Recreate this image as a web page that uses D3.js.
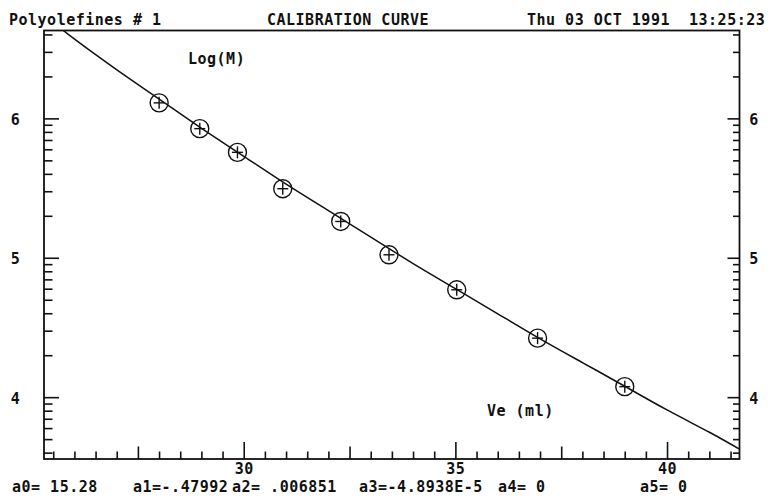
<!DOCTYPE html>
<html>
<head>
<meta charset="utf-8">
<script src="https://cdn.jsdelivr.net/npm/d3@7"></script>
<style>
  body { margin: 0; background: #fff; }
  text { font-family: "DejaVu Sans Mono", "Liberation Mono", monospace; font-weight: bold; font-size: 15px; letter-spacing: 0.5px; fill: #111; }
</style>
</head>
<body>
<div id="chart"></div>
<script>
// calibration standards
var veValues = [27.99, 28.95, 29.84, 30.91, 32.28, 33.42, 35.02, 36.93, 38.99];
var logMValues = [6.115, 5.930, 5.760, 5.499, 5.264, 5.025, 4.774, 4.427, 4.079];

// the fitted calibration curve, sampled along the drawn line
var curveVe = [25.5, 26, 27, 28, 29, 30, 31, 32, 33, 34, 35, 36, 37, 38, 39, 40, 41, 41.7];
var curveLogM = [6.69, 6.57, 6.35, 6.14, 5.93, 5.73, 5.53, 5.34, 5.15, 4.96, 4.78, 4.60, 4.42, 4.25, 4.08, 3.91, 3.75, 3.63];

var xTickLabels = [30, 35, 40];
var yTickLabels = [4, 5, 6];

var headerTexts = ["Polyolefines # 1", "CALIBRATION CURVE", "Thu 03 OCT 1991  13:25:23"];
var coeffTexts = ["a0= 15.28", "a1=-.47992", "a2= .006851", "a3=-4.8938E-5", "a4= 0", "a5= 0"];

var svgWidth = 775;
var svgHeight = 499;
var frame = {left: 44, right: 739.5, top: 30.5, bottom: 459};

var svg = d3.select("#chart").append("svg").attr("width", svgWidth).attr("height", svgHeight);

var xScale = d3.scaleLinear().domain([25.27, 41.70]).range([frame.left, frame.right]);
var yScale = d3.scaleLinear().domain([3.56, 6.634]).range([frame.bottom, frame.top]);

// log(M) ticks: every integer multiple inside each decade
var mScale = d3.scaleLog().domain([Math.pow(10, 3.56), Math.pow(10, 6.634)]);
var yTicks = mScale.ticks().map(function(m){ return Math.log10(m); });
var isMajorY = function(v){ return Math.abs(v - Math.round(v)) < 1e-6; };

// x ticks every 0.5 ml
var xTicks = d3.range(25.5, 41.6, 0.5);
var xTickLen = function(v){
    if (v % 5 === 0) return 17;
    if (v % 2.5 === 0) return 12.5;
    return 7.5;
};

var axes = svg.append("g").attr("stroke", "#111").attr("stroke-width", 1.6);

axes.selectAll(".xt").data(xTicks).enter().append("line")
    .attr("x1", d => xScale(d)).attr("x2", d => xScale(d))
    .attr("y1", frame.bottom).attr("y2", d => frame.bottom - xTickLen(d));

axes.selectAll(".ylt").data(yTicks).enter().append("line")
    .attr("x1", frame.left).attr("x2", d => frame.left + (isMajorY(d) ? 15 : 8.5))
    .attr("y1", d => yScale(d)).attr("y2", d => yScale(d));

axes.selectAll(".yrt").data(yTicks).enter().append("line")
    .attr("x1", frame.right).attr("x2", d => frame.right - (isMajorY(d) ? 12 : 6.5))
    .attr("y1", d => yScale(d)).attr("y2", d => yScale(d));

svg.append("rect")
    .attr("x", frame.left).attr("y", frame.top)
    .attr("width", frame.right - frame.left).attr("height", frame.bottom - frame.top)
    .attr("fill", "none").attr("stroke", "#111").attr("stroke-width", 1.8);

svg.append("clipPath").attr("id", "plotClip").append("rect")
    .attr("x", frame.left).attr("y", frame.top)
    .attr("width", frame.right - frame.left).attr("height", frame.bottom - frame.top);

var curvePts = curveVe.map(function(v, i){ return [v, curveLogM[i]]; });
var line = d3.line().x(d => xScale(d[0])).y(d => yScale(d[1])).curve(d3.curveNatural);
svg.append("path").attr("d", line(curvePts))
    .attr("clip-path", "url(#plotClip)")
    .attr("fill", "none").attr("stroke", "#111").attr("stroke-width", 1.5);

var pts = veValues.map(function(v, i){ return {ve: v, logM: logMValues[i]}; });
var marks = svg.append("g").selectAll("g").data(pts).enter().append("g")
    .attr("transform", d => `translate(${xScale(d.ve)},${yScale(d.logM)})`)
    .attr("stroke", "#111").attr("stroke-width", 1.4).attr("fill", "none");
marks.append("circle").attr("r", 9);
marks.append("line").attr("x1", -5.5).attr("x2", 5.5).attr("y1", 0).attr("y2", 0);
marks.append("line").attr("x1", 0).attr("x2", 0).attr("y1", -6).attr("y2", 6);

// tick labels
svg.selectAll(".xl").data(xTickLabels).enter().append("text")
    .attr("x", d => xScale(d)).attr("y", 474).attr("text-anchor", "middle").text(d => d);
svg.selectAll(".yl").data(yTickLabels).enter().append("text")
    .attr("x", 15.5).attr("y", d => yScale(d) + 6).attr("text-anchor", "middle").text(d => d);
svg.selectAll(".yr").data(yTickLabels).enter().append("text")
    .attr("x", 754).attr("y", d => yScale(d) + 6).attr("text-anchor", "middle").text(d => d);

// header and labels
var headerX = [9, 267, 527];
svg.selectAll(".hd").data(headerTexts).enter().append("text")
    .attr("x", (d, i) => headerX[i]).attr("y", 25).attr("xml:space", "preserve").text(d => d);

svg.append("text").attr("x", 188).attr("y", 64).text("Log(M)");
svg.append("text").attr("x", 487).attr("y", 416).text("Ve (ml)");

var coeffX = [12, 133, 232, 359, 498, 640];
svg.selectAll(".cf").data(coeffTexts).enter().append("text")
    .attr("x", (d, i) => coeffX[i]).attr("y", 492).attr("xml:space", "preserve").text(d => d);
</script>
</body>
</html>
